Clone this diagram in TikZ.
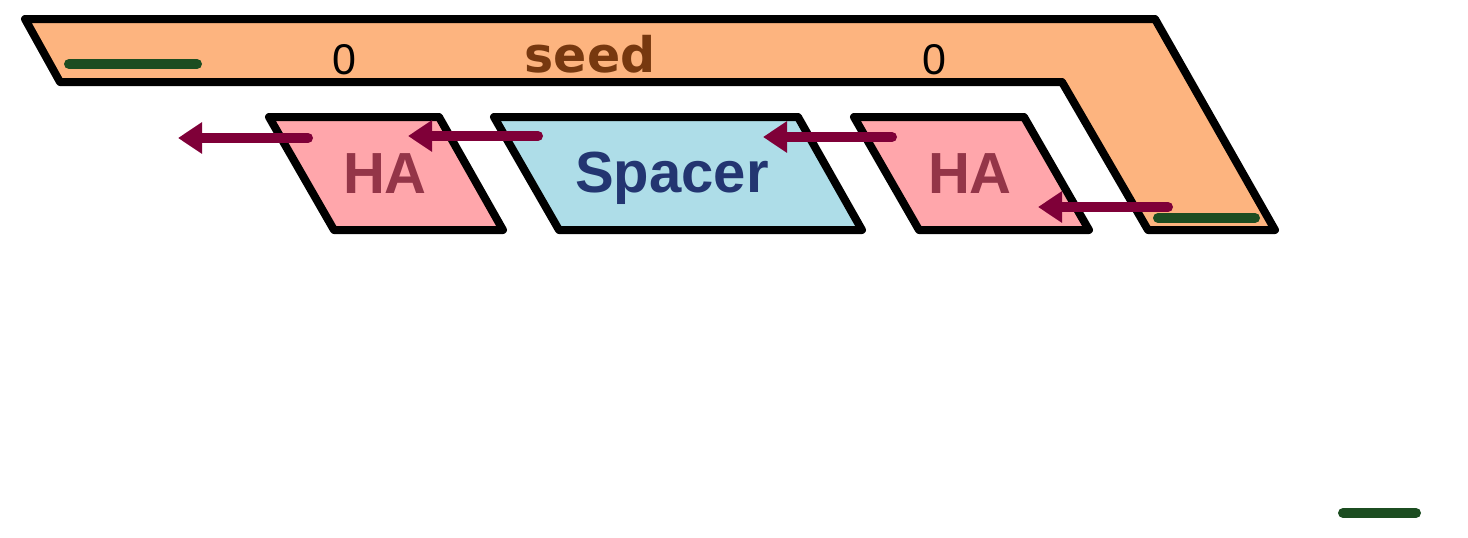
\documentclass[tikz,border=0pt]{standalone}
\usepackage{fontspec}
\setmainfont{Liberation Sans}
\newfontfamily\seedfont{DejaVu Sans}
\usetikzlibrary{positioning,calc,arrows.meta}
\tikzset{>=stealth}

\definecolor{seedfill}{HTML}{FDB47F}
\definecolor{seedtext}{HTML}{77380F}
\definecolor{hafill}{HTML}{FFA6AB}
\definecolor{hatext}{HTML}{943548}
\definecolor{spfill}{HTML}{AEDDE8}
\definecolor{sptext}{HTML}{233571}
\definecolor{arrowcol}{HTML}{7F0038}
\definecolor{markcol}{HTML}{1C4D21}

\tikzset{
  block/.style={line width=8pt,line join=round,draw=black},
  flow/.style={line width=10pt,arrowcol,line cap=round,
    -{Triangle[length=24pt,width=30pt]}},
  greenbar/.style={line width=10pt,markcol,line cap=round},
}

\begin{document}
\begin{tikzpicture}[x=1pt,y=-1pt]
\useasboundingbox (0,0) rectangle (1468,538);

% Seed strand
\draw[block,fill=seedfill] (25,19) -- (1155,19) -- (1275,230)
   -- (1148,230) -- (1062,82) -- (60,82) -- cycle;
\node[anchor=base,seedtext,font=\seedfont\bfseries\fontsize{49}{49}\selectfont] (seed) at (590,72) {seed};
\node[anchor=base,font=\fontsize{43}{43}\selectfont] (zeroL) at (344,74) {0};
\node[anchor=base,font=\fontsize{43}{43}\selectfont] (zeroR) at (934,74) {0};

% Blocks below the seed
\draw[block,fill=hafill] (269,117) -- (439,117) -- (503,230) -- (334,230) -- cycle;
\draw[block,fill=spfill] (494,117) -- (798,117) -- (862,230) -- (559,230) -- cycle;
\draw[block,fill=hafill] (854,117) -- (1024,117) -- (1089,230) -- (919,230) -- cycle;
\node[anchor=base,hatext,font=\bfseries\fontsize{58}{58}\selectfont] (haL) at (385,193) {HA};
\node[anchor=base,sptext,font=\bfseries\fontsize{58}{58}\selectfont] (spacer) at (672,192) {Spacer};
\node[anchor=base,hatext,font=\bfseries\fontsize{58}{58}\selectfont] (haR) at (970,193) {HA};

% Arrow end points
\coordinate (a1) at (308,138);
\coordinate (b1) at (178,138);
\coordinate (a2) at (538,136);
\coordinate (b2) at (408,136);
\coordinate (a3) at (892,137);
\coordinate (b3) at (763,137);
\coordinate (a4) at (1168,207);
\coordinate (b4) at (1038,207);
\foreach \i in {1,...,4}
  \draw[flow] (a\i) -- (b\i);

% Green marks
\coordinate (m1) at (69,64);
\coordinate (n1) at (197,64);
\coordinate (m2) at (1158,218);
\coordinate (n2) at (1255,218);
\coordinate (m3) at (1343,513);
\coordinate (n3) at (1416,513);
\foreach \i in {1,2,3}
  \draw[greenbar] (m\i) -- (n\i);
\end{tikzpicture}
\end{document}
